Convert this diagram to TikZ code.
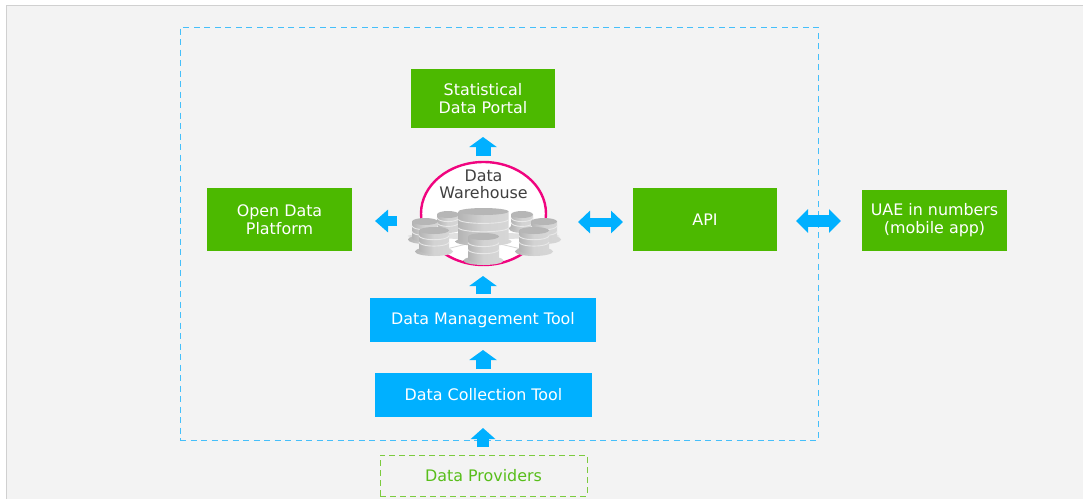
\documentclass[tikz,border=0pt]{standalone}
\usepackage{fontspec}
\setmainfont{DejaVu Sans}
\usetikzlibrary{arrows.meta,shapes.geometric,calc}
\definecolor{panel}{HTML}{F3F3F3}
\definecolor{edgegray}{HTML}{D0D0D0}
\definecolor{gbox}{HTML}{4CB900}
\definecolor{bbox}{HTML}{00B0FF}
\definecolor{dashblue}{HTML}{45BFFA}
\definecolor{dashgreen}{HTML}{7CCB3E}
\definecolor{pinkring}{HTML}{F0047F}
\definecolor{txtdark}{HTML}{404040}
\definecolor{gtxt}{HTML}{58BE1A}
\definecolor{dbdark}{HTML}{B4B4B4}
\definecolor{dblight}{HTML}{D6D6D6}
\definecolor{dbtop}{HTML}{B6B6B6}
\definecolor{dbline}{HTML}{E8E8E8}
\tikzset{
  x=1pt,y=-1pt,
  boxbase/.style={draw=none,text=white,align=center,font=\fontsize{15.9}{18}\selectfont,inner sep=0pt},
  greenbox/.style={boxbase,fill=gbox},
  bluebox/.style={boxbase,fill=bbox},
  upblock/.style={bbox,line width=15pt,-{Triangle[length=10pt,width=27pt]}},
  lowblock/.style={bbox,line width=12pt,-{Triangle[length=11pt,width=24pt]}},
  sideblock/.style={bbox,line width=10pt,-{Triangle[length=13pt,width=22pt]}},
  twoblock/.style={bbox,line width=9pt,{Triangle[length=12pt,width=22pt]}-{Triangle[length=12pt,width=22pt]}},
  twoblockb/.style={bbox,line width=12pt,{Triangle[length=12pt,width=23pt]}-{Triangle[length=12pt,width=23pt]}},
  dbshade/.style={left color=dbdark,right color=dblight,middle color=dblight!90!dbdark},
}
% cx, top y, half width of body, half width of base, height
\newcommand{\dbstack}[5]{%
  \shade[dbshade] (#1,#2+#5-4.5) ellipse[x radius=#4,y radius=4.5];
  \shade[dbshade] (#1-#3,#2+3.5) -- (#1-#3,#2+#5-6) arc[x radius=#3,y radius=4,start angle=180,end angle=0] -- (#1+#3,#2+3.5) -- cycle;
  \draw[dbline,line width=.9pt] (#1-#3,#2+#5*0.30) arc[x radius=#3,y radius=4,start angle=180,end angle=0];
  \draw[dbline,line width=.9pt] (#1-#3,#2+#5*0.52) arc[x radius=#3,y radius=4,start angle=180,end angle=0];
  \fill[dbtop] (#1,#2+3.5) ellipse[x radius=#3,y radius=3.5];
}
\begin{document}
\begin{tikzpicture}
\useasboundingbox (0,0) rectangle (1083,499);
\fill[white] (0,0) rectangle (1083,499);
\fill[panel] (6,5.5) rectangle (1083,499);
\draw[edgegray,line width=.8pt] (6,499) -- (6,5.5) -- (1083,5.5);

\node[draw=dashblue,dashed,line width=.9pt,dash pattern=on 6pt off 4.5pt,minimum width=638pt,minimum height=413pt,inner sep=0pt] (frame) at (499,233.5) {};

\node[greenbox,minimum width=144pt,minimum height=59pt] (portal) at (483,98.5) {Statistical\\Data Portal};
\node[greenbox,minimum width=145pt,minimum height=63pt] (open) at (279.5,219.5) {Open Data\\Platform};
\node[greenbox,minimum width=144pt,minimum height=63pt] (api) at (705,219.5) {API};
\node[greenbox,minimum width=145pt,minimum height=61pt] (uae) at (934.5,220.5) {UAE in numbers\\(mobile app)};
\node[bluebox,minimum width=226pt,minimum height=44pt] (dmt) at (483,320) {Data Management Tool};
\node[bluebox,minimum width=217pt,minimum height=44pt] (dct) at (483.5,395) {Data Collection Tool};
\node[draw=dashgreen,dashed,line width=1pt,dash pattern=on 6pt off 4pt,minimum width=207pt,minimum height=41pt,inner sep=0pt,text=gtxt,font=\fontsize{15.9}{18}\selectfont] (prov) at (483.5,475.5) {Data Providers};

\node[ellipse,draw=pinkring,fill=white,line width=2.4pt,minimum width=125pt,minimum height=103pt,inner sep=0pt] (dw) at (483.5,213.5) {};
\node[text=txtdark,align=center,font=\fontsize{15.9}{17.5}\selectfont,inner sep=0pt] (dwlabel) at (483.5,184.5) {Data\\Warehouse};

% database stacks
\fill[dbdark!30!panel] (483.5,236) ellipse[x radius=76,y radius=3];
\draw[dblight,line width=.8pt] (483,240) -- (434,252) (483,240) -- (534,252);
\dbstack{448}{211}{11}{13}{22}
\dbstack{522}{211}{11}{13}{22}
\dbstack{425}{218}{13}{17}{26}
\dbstack{544}{218}{13}{17}{26}
\dbstack{483.5}{208}{25}{28}{38}
\dbstack{434}{227}{15}{19}{29}
\dbstack{534}{227}{15}{19}{29}
\dbstack{483.5}{233}{15.5}{20}{32}

% block arrows
\coordinate (portalfrom) at (483,156);
\coordinate (portalto) at (483,137);
\coordinate (dmtfrom) at (483,294);
\coordinate (dmtto) at (483,276);
\coordinate (dctfrom) at (483,369);
\coordinate (dctto) at (483,350);
\coordinate (provfrom) at (483,447);
\coordinate (provto) at (483,428);
\coordinate (openfrom) at (397,221);
\coordinate (opento) at (375,221);
\coordinate (apil) at (578,222);
\coordinate (apir) at (623,222);
\coordinate (uael) at (796,221);
\coordinate (uaer) at (841,221);
\draw[upblock] (portalfrom) -- (portalto);
\draw[upblock] (dmtfrom) -- (dmtto);
\draw[upblock] (dctfrom) -- (dctto);
\draw[lowblock] (provfrom) -- (provto);
\draw[sideblock] (openfrom) -- (opento);
\draw[twoblock] (apil) -- (apir);
\draw[twoblockb] (uael) -- (uaer);
\end{tikzpicture}
\end{document}
